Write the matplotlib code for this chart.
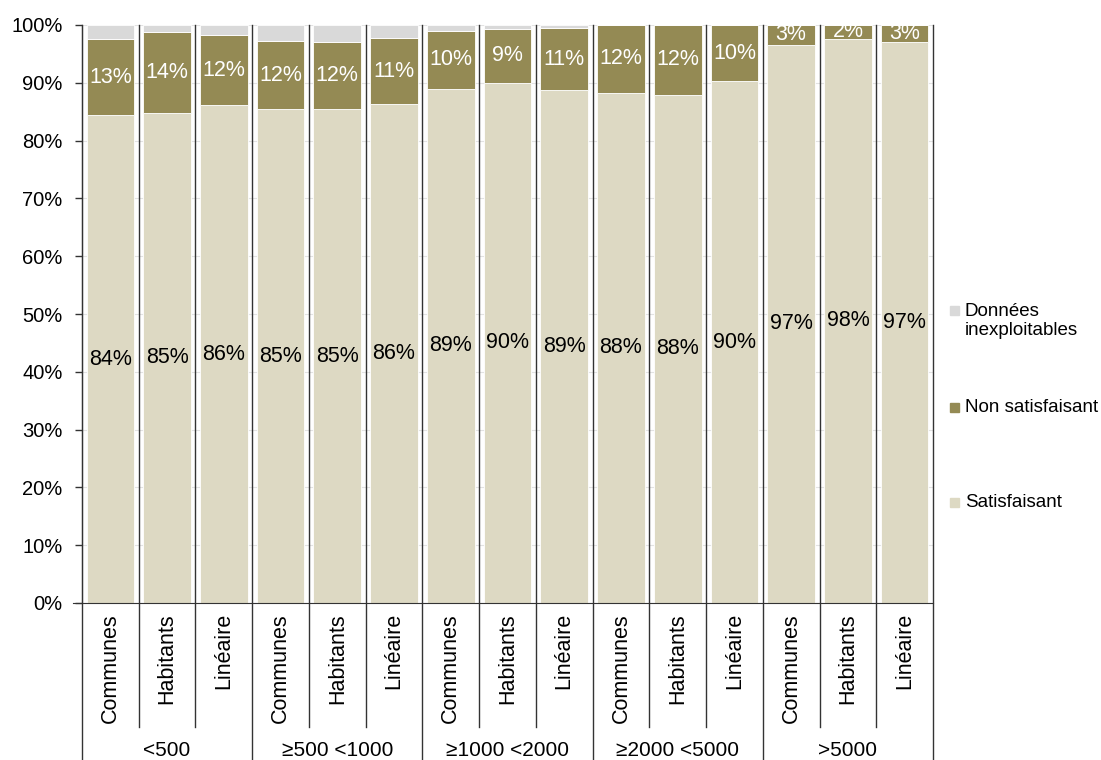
import matplotlib
matplotlib.use("Agg")
import matplotlib.pyplot as plt
from matplotlib.patches import Rectangle
import numpy as np

plt.rcParams['font.family'] = ['Liberation Sans', 'DejaVu Sans']

# tranches de population et indicateurs
groupes = ['<500', '≥500 <1000', '≥1000 <2000', '≥2000 <5000', '>5000']
indicateurs = ['Communes', 'Habitants', 'Linéaire']

# parts en % par barre (3 barres par tranche)
satisfaisant = [84.4, 84.8, 86.1, 85.4, 85.4, 86.3, 89.0, 90.0, 88.8, 88.3, 87.9, 90.3, 96.6, 97.6, 97.1]
non_satisfaisant = [13.1, 14.0, 12.2, 11.8, 11.6, 11.4, 9.9, 9.3, 10.6, 11.7, 12.1, 9.7, 3.4, 2.4, 2.9]
inexploitables = [2.5, 1.2, 1.7, 2.8, 3.0, 2.3, 1.1, 0.7, 0.6, 0.0, 0.0, 0.0, 0.0, 0.0, 0.0]

c_sat = '#ddd9c3'
c_nsat = '#948a54'
c_inex = '#d9d9d9'
c_line = '#333333'

W, H = 1101, 760
fig = plt.figure(figsize=(W / 100, H / 100), dpi=100)
ax = fig.add_axes([82 / W, 1 - 603 / H, (933 - 82) / W, (603 - 25) / H])

n = len(satisfaisant)
x = np.arange(n) + 0.5
sat = np.array(satisfaisant)
nsat = np.array(non_satisfaisant)
inex = np.array(inexploitables)

bw = 0.84
ax.bar(x, sat, bw, color=c_sat, edgecolor='white', linewidth=0.6, zorder=2)
ax.bar(x, nsat, bw, bottom=sat, color=c_nsat, edgecolor='white', linewidth=0.6, zorder=2)
ax.bar(x, inex, bw, bottom=sat + nsat, color=c_inex, edgecolor='white', linewidth=0.6, zorder=2)

# etiquettes de valeurs centrées dans chaque segment
for i in range(n):
    ax.text(x[i], sat[i] / 2, f"{sat[i]:.0f}%", ha='center', va='center',
            fontsize=15.5, color='black', zorder=4, clip_on=True)
    ax.text(x[i], sat[i] + nsat[i] / 2, f"{nsat[i]:.0f}%", ha='center', va='center',
            fontsize=15.5, color='white', zorder=4, clip_on=True)

ax.set_xlim(0, n)
ax.set_ylim(0, 100)
ax.set_yticks(np.arange(0, 101, 10))
ax.set_yticklabels([f"{v}%" for v in range(0, 101, 10)])
ax.tick_params(axis='y', length=5, width=1, color=c_line, labelsize=14.5, pad=9)
ax.set_xticks([])
ax.yaxis.grid(True, color='#e3e3e3', linewidth=0.8, zorder=0)
ax.set_axisbelow(True)

for s in ['top', 'right']:
    ax.spines[s].set_visible(False)
ax.spines['left'].set_color(c_line)
ax.spines['bottom'].set_color(c_line)
ax.spines['bottom'].set_bounds(-0.15, n)

# séparateurs verticaux entre barres, prolongés sous l'axe
tr = ax.get_xaxis_transform()
for k in range(n + 1):
    bas = -0.30 if k % 3 == 0 else -(727 - 603) / 578
    ax.plot([k, k], [bas, 1], color=c_line, linewidth=1, transform=tr,
            clip_on=False, zorder=3)

# libellés des indicateurs (verticaux) et des tranches
for i in range(n):
    ax.text(x[i], -(613 - 603) / 578, indicateurs[i % 3], rotation=90,
            ha='center', va='top', fontsize=15.5, transform=tr)
for g, nom in enumerate(groupes):
    ax.text(3 * g + 1.5, -(756 - 603) / 578, nom, ha='center', va='baseline',
            fontsize=15, transform=tr)

# légende à droite
legende = [('Données\ninexploitables', c_inex, 310, 321),
           ('Non satisfaisant', c_nsat, 407, 407),
           ('Satisfaisant', c_sat, 502, 502)]
for texte, couleur, ym, yt in legende:
    fig.patches.append(Rectangle((950 / W, 1 - (ym + 4.5) / H), 9 / W, 9 / H,
                                 color=couleur, transform=fig.transFigure))
    fig.text(965 / W, 1 - yt / H, texte, ha='left', va='center',
             fontsize=13.5, linespacing=1.15)

fig.savefig('out.png', dpi=100)
